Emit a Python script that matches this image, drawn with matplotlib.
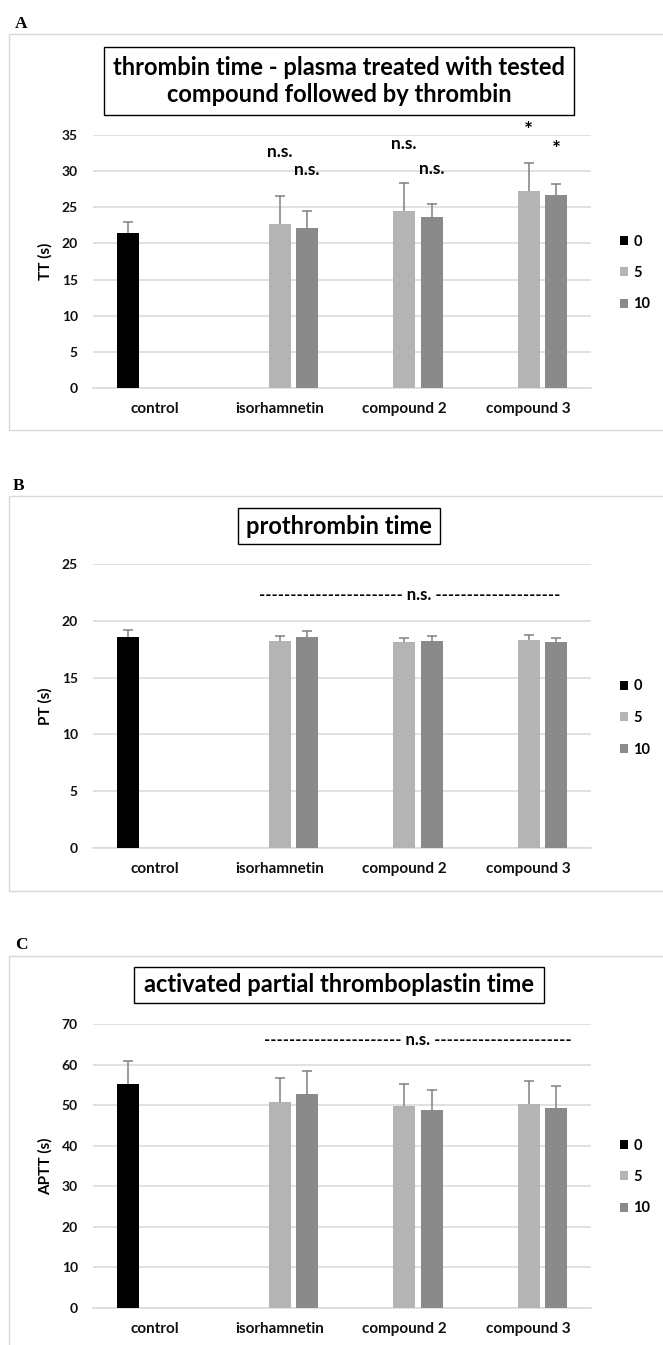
import numpy as np
import matplotlib
matplotlib.use("Agg")
import matplotlib.pyplot as plt
from matplotlib.patches import Rectangle, Patch

# ---------------- data ----------------
categories = ["control", "isorhamnetin", "compound 2", "compound 3"]
series_labels = ["0", "5", "10"]
series_colors = ["#000000", "#b4b4b4", "#8a8a8a"]

nan = np.nan
# Panel A: thrombin time (s)
tt_s0 = [21.5, nan, nan, nan]
tt_s5 = [nan, 22.7, 24.5, 27.3]
tt_s10 = [nan, 22.2, 23.7, 26.7]
tt_e0 = [1.4, nan, nan, nan]
tt_e5 = [nan, 3.8, 3.8, 3.8]
tt_e10 = [nan, 2.3, 1.7, 1.5]

# Panel B: prothrombin time (s)
pt_s0 = [18.6, nan, nan, nan]
pt_s5 = [nan, 18.2, 18.1, 18.3]
pt_s10 = [nan, 18.6, 18.2, 18.1]
pt_e0 = [0.6, nan, nan, nan]
pt_e5 = [nan, 0.45, 0.4, 0.45]
pt_e10 = [nan, 0.5, 0.45, 0.4]

# Panel C: APTT (s)
aptt_s0 = [55.1, nan, nan, nan]
aptt_s5 = [nan, 50.7, 49.7, 50.4]
aptt_s10 = [nan, 52.8, 48.9, 49.4]
aptt_e0 = [5.9, nan, nan, nan]
aptt_e5 = [nan, 6.1, 5.6, 5.6]
aptt_e10 = [nan, 5.6, 4.9, 5.2]

# annotations panel A: (category, series, y, text)
tt_annot_cat = [1, 1, 2, 2, 3, 3]
tt_annot_ser = [1, 2, 1, 2, 1, 2]
tt_annot_y = [32.7, 30.1, 33.7, 30.3, 35.6, 32.9]
tt_annot_txt = ["n.s.", "n.s.", "n.s.", "n.s.", "*", "*"]

# ---------------- layout ----------------
W, H = 663, 1345
fig = plt.figure(figsize=(W / 100, H / 100), dpi=100)
fig.patch.set_facecolor("white")

FONT = "Lato"
GRID = "#d9d9d9"
AX_L, AX_R = 93, 591

def fx(px):
    return px / W

def fy(py):
    return 1 - py / H

def frame(top, bottom):
    fig.patches.append(Rectangle((fx(9), fy(bottom)), fx(800), fy(top) - fy(bottom),
                                 transform=fig.transFigure, fill=False,
                                 edgecolor=GRID, linewidth=1.0))

def title_box(x0, x1, y0, y1, text):
    fig.patches.append(Rectangle((fx(x0), fy(y1)), fx(x1) - fx(x0), fy(y0) - fy(y1),
                                 transform=fig.transFigure, fill=False,
                                 edgecolor="black", linewidth=1.0))
    fig.text(fx((x0 + x1) / 2), fy((y0 + y1) / 2), text, ha="center", va="center",
             family=FONT, weight="bold", fontsize=17, linespacing=1.2)

def panel(top, bottom, ymax, ystep, ylabel, s0, s5, s10, e0, e5, e10, legend_y):
    ax = fig.add_axes([fx(AX_L), fy(bottom), fx(AX_R) - fx(AX_L), fy(top) - fy(bottom)])
    x = np.arange(len(categories))
    width = 0.177
    offs = [-0.22, 0.0, 0.22]
    for means, errs, off, col in zip([s0, s5, s10], [e0, e5, e10], offs, series_colors):
        m = np.array(means, dtype=float)
        e = np.array(errs, dtype=float)
        ok = ~np.isnan(m)
        ax.bar(x[ok] + off, m[ok], width, color=col, zorder=3)
        eb = ax.errorbar(x[ok] + off, m[ok], yerr=[np.zeros(ok.sum()), e[ok]], fmt="none",
                         ecolor="#808080", elinewidth=1.1, capsize=3.3, capthick=1.1, zorder=4)
        caps = eb[1]
        if len(caps) == 2:
            caps[0].set_visible(False)  # plus-only error bars: no lower cap
    ax.set_xlim(-0.5, 3.5)
    ax.set_ylim(0, ymax)
    ax.set_yticks(np.arange(0, ymax + 0.1, ystep))
    ax.yaxis.grid(True, color=GRID, linewidth=1.1, zorder=0)
    ax.set_axisbelow(True)
    for sp in ["top", "right", "left"]:
        ax.spines[sp].set_visible(False)
    ax.spines["bottom"].set_color(GRID)
    ax.spines["bottom"].set_linewidth(1.1)
    ax.tick_params(axis="both", length=0)
    ax.tick_params(axis="y", pad=11, labelsize=10)
    ax.tick_params(axis="x", pad=10, labelsize=11)
    ax.set_xticks(x)
    ax.set_xticklabels(categories)
    for lab in ax.get_xticklabels() + ax.get_yticklabels():
        lab.set_family(FONT)
        lab.set_weight("bold")
        lab.set_color("#111111")
    fig.text(fx(45), fy((top + bottom) / 2), ylabel, rotation=90, ha="center", va="center",
             family=FONT, weight="bold", fontsize=11)
    handles = [Patch(facecolor=c, edgecolor="none") for c in series_colors]
    fig.legend(handles, series_labels, loc="center left",
               bbox_to_anchor=(fx(620), fy(legend_y)), frameon=False,
               prop={"family": FONT, "weight": "bold", "size": 10.5},
               handlelength=0.55, handleheight=0.55, handletextpad=0.35,
               labelspacing=1.2, borderaxespad=0, borderpad=0)
    return ax, x, offs

def dash_note(ax, x_start_px, yv, nleft, nright):
    xd = (x_start_px - AX_L) / ((AX_R - AX_L) / 4) - 0.5
    ax.text(xd, yv, "-" * nleft + " n.s. " + "-" * nright, ha="left", va="center",
            family=FONT, weight="bold", fontsize=12, clip_on=False)

# ---------- Panel A ----------
fig.text(fx(15), fy(28), "A", family="Liberation Serif", weight="bold", fontsize=12.5,
         ha="left", va="baseline")
frame(34, 430)
title_box(104, 574, 47, 115, "thrombin time - plasma treated with tested\ncompound followed by thrombin")
axA, x, offs = panel(135, 388, 35, 5, "TT (s)", tt_s0, tt_s5, tt_s10, tt_e0, tt_e5, tt_e10, 273)
for c, s, yv, t in zip(tt_annot_cat, tt_annot_ser, tt_annot_y, tt_annot_txt):
    axA.text(x[c] + offs[s], yv, t, ha="center", va="center", family=FONT,
             weight="bold", fontsize=(12.5 if t != "*" else 15), clip_on=False)

# ---------- Panel B ----------
fig.text(fx(13), fy(490), "B", family="Liberation Serif", weight="bold", fontsize=12.5,
         ha="left", va="baseline")
frame(496, 891)
title_box(238, 440, 508, 544, "prothrombin time")
axB, x, offs = panel(564, 848, 25, 5, "PT (s)", pt_s0, pt_s5, pt_s10, pt_e0, pt_e5, pt_e10, 718)
dash_note(axB, 259, 22.3, 23, 20)

# ---------- Panel C ----------
fig.text(fx(15), fy(949), "C", family="Liberation Serif", weight="bold", fontsize=12.5,
         ha="left", va="baseline")
frame(956, 1400)
title_box(134, 544, 967, 1003, "activated partial thromboplastin time")
axC, x, offs = panel(1024, 1308, 70, 10, "APTT (s)", aptt_s0, aptt_s5, aptt_s10,
                     aptt_e0, aptt_e5, aptt_e10, 1177)
dash_note(axC, 264, 66.0, 22, 22)

fig.savefig("out.png", dpi=100, facecolor="white")
